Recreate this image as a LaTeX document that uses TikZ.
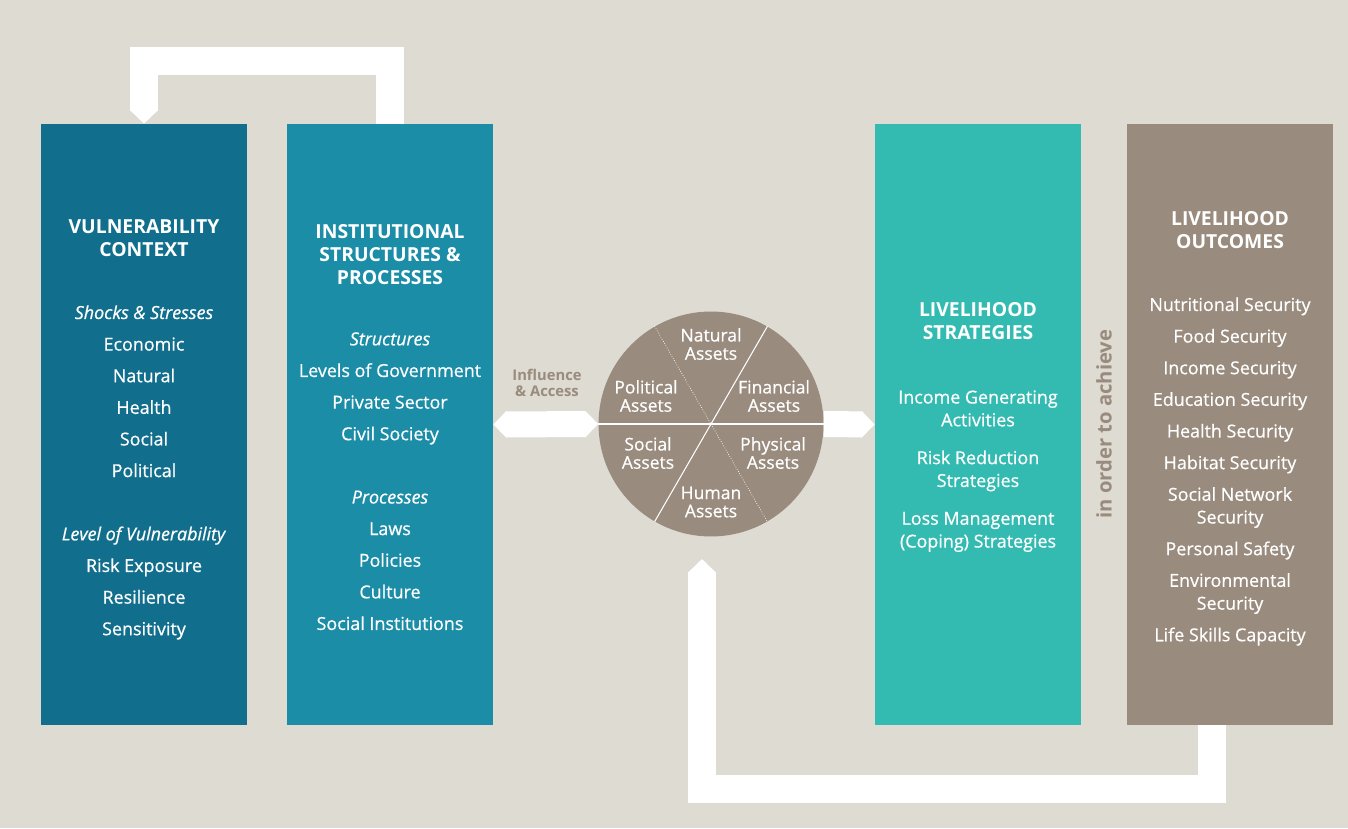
\documentclass[tikz,border=0pt]{standalone}
\usepackage{fontspec}
\setmainfont{Open Sans}[UprightFeatures={FakeBold=0.6}, ItalicFeatures={FakeBold=0.6}]
\usetikzlibrary{arrows.meta,calc}

\definecolor{bgrey}{RGB}{222,219,211}
\definecolor{vulnblue}{RGB}{17,111,141}
\definecolor{instblue}{RGB}{27,141,167}
\definecolor{stratteal}{RGB}{51,187,177}
\definecolor{taupe}{RGB}{153,139,125}

\begin{document}
\begin{tikzpicture}[x=0.02cm, y=-0.02cm,
	column/.style={rectangle, inner sep=0pt, minimum width=4.12cm, minimum height=12.02cm},
	head/.style={anchor=north, inner sep=0pt, align=center, text=white, font=\fontsize{11}{13}\selectfont\bfseries},
	items/.style={anchor=north, inner sep=0pt, align=center, text=white, font=\fontsize{10.2}{13}\selectfont},
	asset/.style={align=center, inner sep=0pt, text=white, font=\fontsize{10}{10.4}\selectfont},
	band/.style={white, line width=0.56cm, line join=miter, -{Triangle[length=0pt 0.5, width=0pt 1]}}]
	
	\fill[bgrey] (0,0) rectangle (1348,828);
	
	% the four columns
	\node[column, fill=vulnblue] (vuln) at (144,424.5) {};
	\node[column, fill=instblue] (inst) at (390,424.5) {};
	\node[column, fill=stratteal] (strat) at (978,424.5) {};
	\node[column, fill=taupe] (outc) at (1230,424.5) {};
	
	\node[head] (vulnhead) at (144,219) {VULNERABILITY\\CONTEXT};
	\node[items] (vulnlist) at (144,305) {\textit{Shocks \& Stresses}\\[5pt]Economic\\[5pt]Natural\\[5pt]Health\\[5pt]Social\\[5pt]Political\\[23pt]\textit{Level of Vulnerability}\\[5pt]Risk Exposure\\[5pt]Resilience\\[5pt]Sensitivity};
	
	\node[head] (insthead) at (390,224) {INSTITUTIONAL\\STRUCTURES \&\\PROCESSES};
	\node[items] (instlist) at (390,332) {\textit{Structures}\\[5pt]Levels of Government\\[5pt]Private Sector\\[5pt]Civil Society\\[23pt]\textit{Processes}\\[5pt]Laws\\[5pt]Policies\\[5pt]Culture\\[5pt]Social Institutions};
	
	\node[head] (strathead) at (978,302) {LIVELIHOOD\\STRATEGIES};
	\node[items] (stratlist) at (978,390) {Income Generating\\Activities\\[8.5pt]Risk Reduction\\Strategies\\[8.5pt]Loss Management\\(Coping) Strategies};
	
	\node[head] (outchead) at (1230,211) {LIVELIHOOD\\OUTCOMES};
	\node[items] (outclist) at (1230,297) {Nutritional Security\\[5pt]Food Security\\[5pt]Income Security\\[5pt]Education Security\\[5pt]Health Security\\[5pt]Habitat Security\\[5pt]Social Network\\Security\\[5pt]Personal Safety\\[5pt]Environmental\\Security\\[5pt]Life Skills Capacity};
	
	% asset wheel
	\node[circle, fill=taupe, minimum size=4.5cm, inner sep=0pt] (assets) at (711,424) {};
	\draw[white, line width=0.6pt] (assets.west) -- (assets.east);
	\draw[white, line width=0.6pt] (assets.60) -- (assets.240);
	\draw[white, line width=0.4pt, densely dotted] (assets.120) -- (assets.300);
	
	\node[asset] (natural) at (711,344) {Natural\\Assets};
	\node[asset] (political) at (646,396) {Political\\Assets};
	\node[asset] (financial) at (774,396) {Financial\\Assets};
	\node[asset] (social) at (648,453) {Social\\Assets};
	\node[asset] (physical) at (773,453) {Physical\\Assets};
	\node[asset] (human) at (711,502) {Human\\Assets};
	
	% arrows
	\draw[band] (inst.north) -- ++(0,-63) -| (vuln.north);
	\coordinate (back) at (702,559);
	\draw[band] ($(outc.south)+(-18,0)$) -- ++(0,64) -| (back);
	\draw[white, line width=0.52cm, {Triangle[length=0pt 0.5, width=0pt 1]}-{Triangle[length=0pt 0.5, width=0pt 1]}] (inst.east) -- (assets.west);
	\draw[white, line width=0.52cm, -{Triangle[length=0pt 0.5, width=0pt 1]}] (assets.east) -- (strat.west);
	
	\node[align=center, text=taupe, font=\fontsize{8.4}{9}\selectfont\bfseries] (access) at (547,383) {Influence\\\& Access};
	\node[rotate=90, text=taupe, font=\fontsize{11.5}{12}\selectfont\bfseries] (achieve) at (1104,424) {in order to achieve};
	
\end{tikzpicture}
\end{document}
